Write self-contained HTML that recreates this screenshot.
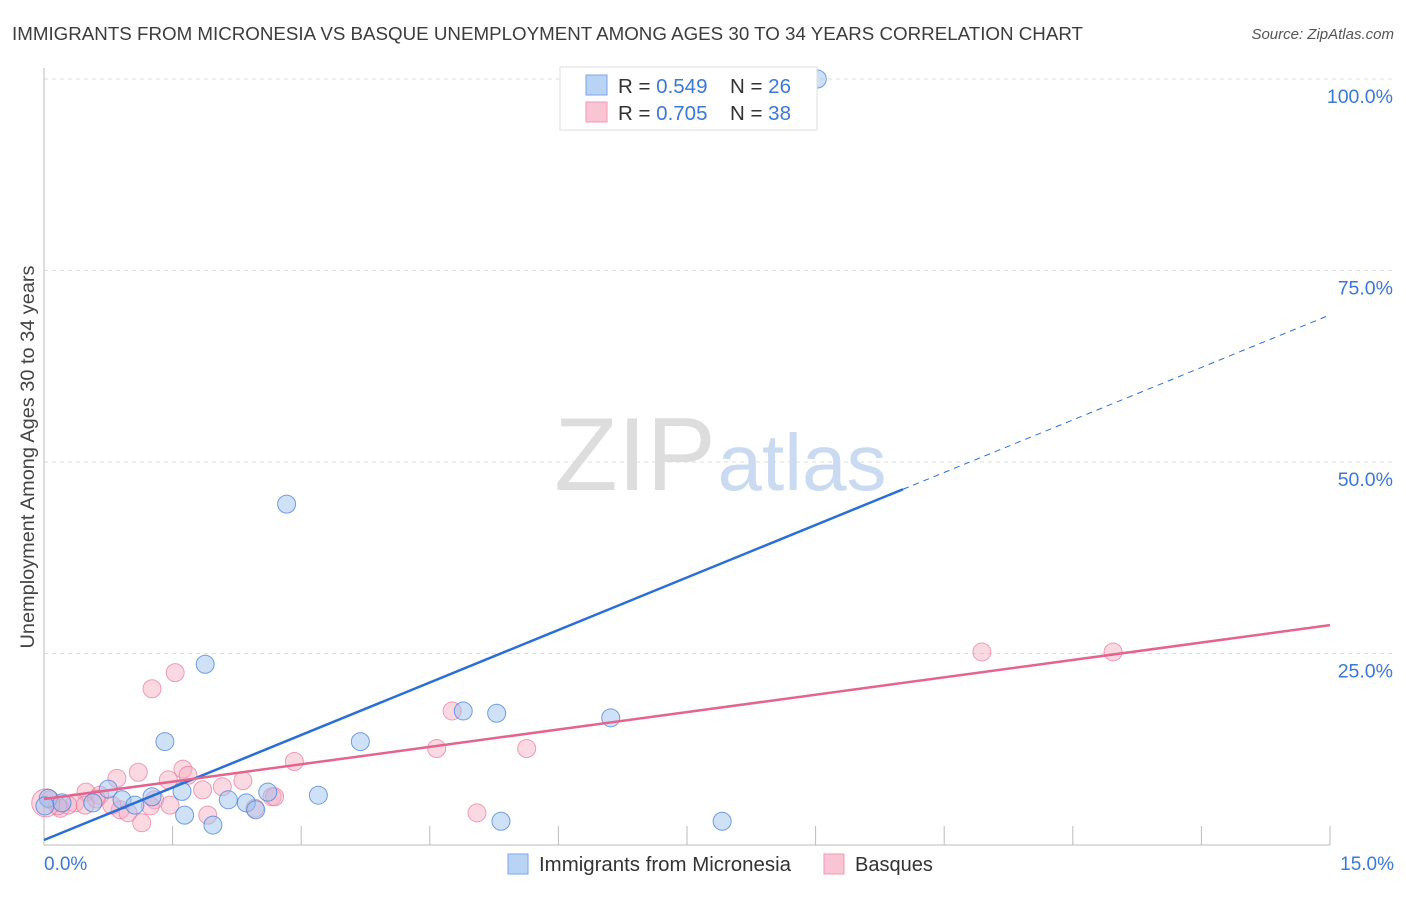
<!DOCTYPE html>
<html><head><meta charset="utf-8"><style>
body{margin:0;background:#fff;font-family:"Liberation Sans",sans-serif;}
svg text{font-family:"Liberation Sans",sans-serif;}
</style></head><body>
<svg id="chart" width="1406" height="892">
<text x="12" y="40" font-size="18" fill="#3c3c3c" textLength="1071" lengthAdjust="spacingAndGlyphs">IMMIGRANTS FROM MICRONESIA VS BASQUE UNEMPLOYMENT AMONG AGES 30 TO 34 YEARS CORRELATION CHART</text>
<text x="1394" y="39" font-size="15" fill="#555" font-style="italic" text-anchor="end">Source: ZipAtlas.com</text>
<g id="grid"></g>
<g><text x="635" y="490" font-size="104" fill="#ddd" text-anchor="middle" font-family="Liberation Serif">ZIP</text><text x="802" y="490" font-size="80" fill="#c9daf1" text-anchor="middle">atlas</text></g>
<line x1="44" y1="68" x2="44" y2="845" stroke="#bbb"/>
<line x1="44" y1="845" x2="1330" y2="845" stroke="#bbb"/>
<g id="ticks"></g>
<g id="ylabels"></g>
<text x="44" y="870" font-size="19" fill="#3b78d8">0.0%</text>
<text x="1394" y="870" font-size="19" fill="#3b78d8" text-anchor="end">15.0%</text>
<text transform="translate(34,457) rotate(-90)" font-size="19.5" fill="#444" text-anchor="middle" textLength="383" lengthAdjust="spacingAndGlyphs">Unemployment Among Ages 30 to 34 years</text>
<g id="pts"></g>
<g id="lines"></g>
<g>
<rect x="560" y="67" width="257" height="63" fill="#fff" stroke="#ddd"/>
<rect x="586" y="75" width="21" height="20" fill="#b9d3f5" stroke="#7aa6e6"/>
<rect x="586" y="102" width="21" height="20" fill="#f9c5d4" stroke="#ee9ab4"/>
<text x="618" y="93" font-size="20.5" fill="#333">R = <tspan fill="#3b78d8">0.549</tspan><tspan x="730">N = </tspan><tspan fill="#3b78d8">26</tspan></text>
<text x="618" y="120" font-size="20.5" fill="#333">R = <tspan fill="#3b78d8">0.705</tspan><tspan x="730">N = </tspan><tspan fill="#3b78d8">38</tspan></text>
</g>
<g>
<rect x="508" y="854" width="20" height="20" fill="#b9d3f5" stroke="#7aa6e6"/>
<text x="539" y="871" font-size="20" fill="#333" textLength="252" lengthAdjust="spacingAndGlyphs">Immigrants from Micronesia</text>
<rect x="824" y="854" width="20" height="20" fill="#f9c5d4" stroke="#ee9ab4"/>
<text x="855" y="871" font-size="20" fill="#333">Basques</text>
</g>
</svg>
<script>
const yTicks=[25,50,75,100];
const yTickLabels=["25.0%","50.0%","75.0%","100.0%"];
const blueX=[9.02,2.83,1.88,1.41,3.69,4.89,5.28,6.61,3.20,1.61,0.75,0.91,1.06,0.57,0.05,1.26,2.15,2.36,2.61,2.47,1.64,1.97,5.33,7.91,0.21,0.01];
const blueY=[100,44.5,23.6,13.5,13.5,17.5,17.2,16.6,6.5,7.0,7.3,5.9,5.2,5.5,6.1,6.3,5.9,5.5,6.9,4.6,3.9,2.6,3.1,3.1,5.5,5.1];
const pinkX=[10.94,12.47,1.53,1.26,4.76,5.63,4.58,2.92,1.62,1.10,1.68,0.85,1.45,2.32,2.08,0.49,0.65,2.66,1.29,1.85,0.89,0.98,1.14,1.47,1.91,5.05,0.61,0.36,0.19,0.07,0.28,0.79,2.69,2.46,0.48,0.16,1.24,0.02];
const pinkY=[25.2,25.2,22.5,20.4,17.5,12.6,12.6,10.9,9.9,9.5,9.1,8.7,8.5,8.4,7.6,6.9,6.5,6.3,5.9,7.2,4.6,4.2,2.9,5.2,3.9,4.2,6.0,5.5,4.8,5.9,5.2,5.2,6.3,4.8,5.2,5.1,5.1,5.5];
const blueTrend=[0.65,69.2];
const pinkTrend=[6.0,28.7];
const blueSolidEnd=10.02;
const X=v=>44+v/15*1286, Y=v=>845-v*7.66;
const NS="http://www.w3.org/2000/svg";
function mk(t,a,p){const e=document.createElementNS(NS,t);for(const k in a)e.setAttribute(k,a[k]);p.appendChild(e);return e;}
const grid=document.getElementById('grid'),yl=document.getElementById('ylabels');
yTicks.forEach((t,i)=>{
 const l=mk('line',{x1:44,x2:1394,y1:Y(t),y2:Y(t),stroke:'#ddd','stroke-dasharray':'4,4'},grid);
 
 
 const tx=mk('text',{x:1393,y:Y(t)+24,'font-size':19.5,fill:'#3b78d8','text-anchor':'end'},yl);
 tx.textContent=yTickLabels[i];
 
 
});
const tk=document.getElementById('ticks');
for(let i=1;i<=10;i++){const l=mk('line',{x1:X(i*1.5),x2:X(i*1.5),y1:826,y2:845,stroke:'#bbb'},tk);
 
 }
const pts=document.getElementById('pts');
pinkX.forEach((x,i)=>{const c=mk('circle',{cx:X(x),cy:Y(pinkY[i]),r:i==37?14:9,fill:'rgba(246,170,192,0.45)',stroke:'rgba(232,120,155,0.7)','stroke-width':1},pts);
 
 });
blueX.forEach((x,i)=>{const c=mk('circle',{cx:X(x),cy:Y(blueY[i]),r:9,fill:'rgba(160,196,240,0.5)',stroke:'rgba(70,130,215,0.75)','stroke-width':1},pts);
 
 });
const ln=document.getElementById('lines');
const by=v=>blueTrend[0]+(blueTrend[1]-blueTrend[0])*v/15;
let a=mk('line',{x1:X(0),y1:Y(by(0)),x2:X(blueSolidEnd),y2:Y(by(blueSolidEnd)),stroke:'#2a6fd6','stroke-width':2.5},ln);


a=mk('line',{x1:X(blueSolidEnd),y1:Y(by(blueSolidEnd)),x2:X(15),y2:Y(by(15)),stroke:'#2a6fd6','stroke-width':1,'stroke-dasharray':'6,5'},ln);


a=mk('line',{x1:X(0),y1:Y(pinkTrend[0]),x2:X(15),y2:Y(pinkTrend[1]),stroke:'#e4648e','stroke-width':2.5},ln);


</script>
</body></html>
